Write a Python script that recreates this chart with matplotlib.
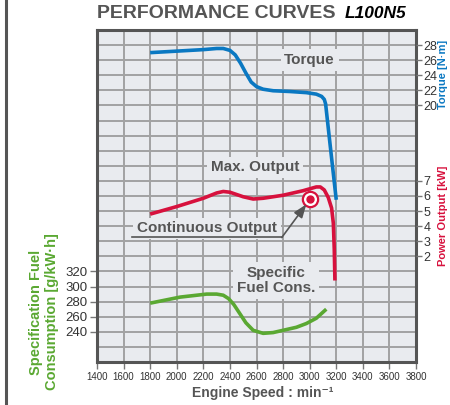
import matplotlib
matplotlib.use("Agg")
import matplotlib.pyplot as plt
from matplotlib.lines import Line2D
import numpy as np

plt.rcParams['font.family'] = ['Liberation Sans', 'DejaVu Sans']

# engine speed [min-1] and curves
torque_rpm = [1800, 2000, 2200, 2300, 2350, 2400, 2440, 2480, 2520, 2560, 2600, 2650,
              2725, 2850, 2975, 3050, 3090, 3110, 3120, 3150, 3200]
torque_nm = [27.0, 27.2, 27.4, 27.55, 27.55, 27.3, 26.7, 25.6, 24.3, 23.1, 22.5, 22.15,
             21.95, 21.85, 21.7, 21.5, 21.2, 20.8, 20.2, 15.4, 7.5]

power_rpm = [1800, 2000, 2200, 2300, 2350, 2400, 2450, 2500, 2575, 2650, 2800, 2950,
             3050, 3080, 3110, 3140, 3165, 3178, 3185, 3190]
power_kw = [4.8, 5.3, 5.85, 6.2, 6.3, 6.25, 6.1, 5.95, 5.8, 5.85, 6.05, 6.35,
            6.6, 6.6, 6.4, 5.9, 5.2, 4.2, 2.5, 0.4]

sfc_rpm = [1800, 2025, 2225, 2300, 2350, 2390, 2430, 2475, 2520, 2575, 2650, 2725,
           2800, 2900, 2975, 3050, 3125]
sfc_g = [278, 286, 290, 290, 288.5, 284, 276, 264, 252, 242, 238, 239,
         242, 246, 251, 258, 270]

cont_rpm, cont_kw = 3000, 5.8

x_ticks = list(range(1400, 3801, 200))
sfc_ticks = [240, 260, 280, 300, 320]
torque_ticks = [20, 22, 24, 26, 28]
power_ticks = [2, 3, 4, 5, 6, 7]

grey = '#555555'
blue = '#0a78c2'
red = '#d7113d'
green = '#5aa832'
bg = '#e9ebef'

fig = plt.figure(figsize=(4.5, 4.05), dpi=100)
ax = fig.add_axes([97/450, 43/405, 319/450, 332/405])
ax.set_facecolor(bg)

# 22 grid rows; each axis is scaled so its ticks fall on grid rows
H = 22
ax.set_xlim(1400, 3800)
ax.set_ylim(240 - 2*20, 240 + (H - 2)*20)
ax.set_xticks(x_ticks)
ax.set_xticklabels([str(v) for v in x_ticks], fontsize=7, color='#333333')
ax.set_yticks(sfc_ticks)
ax.set_yticklabels([str(v) for v in sfc_ticks], fontsize=9.5, color='#333333')
ax.set_yticks(np.arange(200, 641, 20), minor=True)
ax.tick_params(which='minor', length=0)
ax.tick_params(which='major', length=5, width=1, color='#777777', pad=2)
ax.grid(which='both', color='#a2a2a2', lw=1.4)
for s in ax.spines.values():
    s.set_color(grey)
    s.set_linewidth(2.2)

ax_t = ax.twinx()
ax_t.set_ylim(20 - 17*2, 20 + (H - 17)*2)
ax_p = ax.twinx()
ax_p.set_ylim(2 - 7, 2 + (H - 7))
for a, ticks in ((ax_t, torque_ticks), (ax_p, power_ticks)):
    a.set_yticks(ticks)
    a.set_yticklabels([str(v) for v in ticks], fontsize=9, color='#333333')
    a.tick_params(length=4, width=1, color='#777777', pad=1.5)
    for s in a.spines.values():
        s.set_visible(False)

line_kw = dict(lw=2.6, solid_capstyle='butt', solid_joinstyle='round', zorder=3)
ax.plot(sfc_rpm, sfc_g, color=green, **line_kw)
ax_t.plot(torque_rpm, torque_nm, color=blue, **line_kw)
ax_p.plot(power_rpm, power_kw, color=red, **line_kw)

# continuous output marker
ax_p.plot([cont_rpm], [cont_kw], 'o', ms=11, mfc='white', mec=red, mew=1.6, zorder=4)
ax_p.plot([cont_rpm], [cont_kw], 'o', ms=5, color=red, zorder=5)

lab = dict(fontsize=11, fontweight='bold', color=grey, ha='center', va='center')
box = dict(boxstyle='square,pad=0.25', fc=bg, ec='none')
ax_t.text(3000, 26, 'Torque', bbox=box, **lab)
ax_p.text(2590, 7.9, 'Max. Output', bbox=box, **lab)
ax_p.text(2228, 3.85, 'Continuous Output', bbox=box, **lab)
ax.text(2750, 308, 'Specific\nFuel Cons.', bbox=box, linespacing=1.05, **lab)

# underline + arrow to the marker
ax_p.plot([1660, 2790], [3.25, 3.25], color=grey, lw=1.2, zorder=4)
ax_p.annotate('', xy=(2975, 5.45), xytext=(2790, 3.25),
              arrowprops=dict(arrowstyle='-|>,head_length=0.8,head_width=0.3',
                              color=grey, lw=1.2, shrinkA=0, shrinkB=0), zorder=4)

fig.text(97/450, 1 - 13/405, 'PERFORMANCE CURVES', fontsize=14, fontweight='bold',
         color=grey, ha='left', va='center')
fig.text(345/450, 1 - 13/405, 'L100N5', fontsize=12.5, fontweight='bold', style='italic',
         color='black', ha='left', va='center')
fig.text(263/450, 12/405, 'Engine Speed : min\u207b\u00b9', fontsize=10, fontweight='bold',
         color=grey, ha='center', va='center')
fig.text(44/450, 1 - 312/405, 'Specification Fuel\nConsumption [g/kW\u00b7h]', fontsize=10.5,
         fontweight='bold', color=green, rotation=90, ha='center', va='center',
         linespacing=1.15)
fig.text(443.5/450, 1 - 74/405, 'Torque [N\u00b7m]', fontsize=8, fontweight='bold',
         color=blue, rotation=90, ha='center', va='center')
fig.text(443.5/450, 1 - 216/405, 'Power Output [kW]', fontsize=8, fontweight='bold',
         color=red, rotation=90, ha='center', va='center')

fig.add_artist(Line2D([5.5/450, 5.5/450], [0, 1], color=grey, lw=2.2))

fig.savefig('out.png', dpi=100)
